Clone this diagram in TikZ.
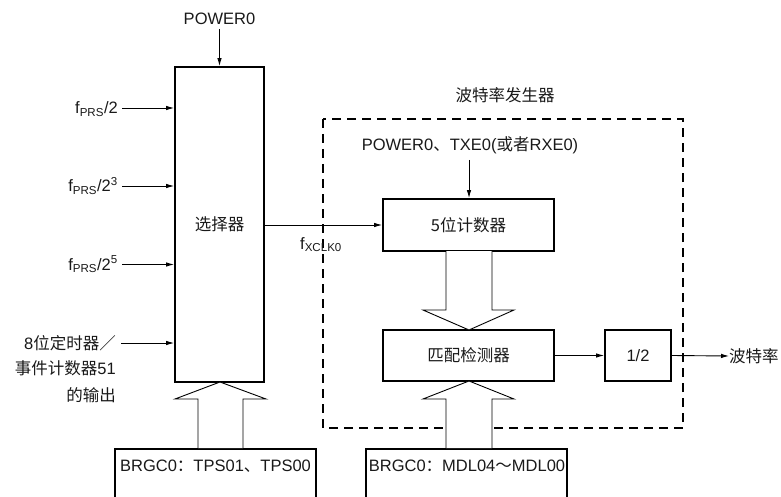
\documentclass[tikz,border=0pt]{standalone}
\usepackage{fontspec}
\setmainfont{Liberation Sans}
\newfontfamily\cjk{Noto Sans CJK SC}
\usetikzlibrary{arrows.meta}
\begin{document}
\begin{tikzpicture}[x=1pt,y=-1pt,
  every node/.style={font=\fontsize{16.5}{20}\selectfont, inner sep=0pt, text=black!90},
  blk/.style={draw, line width=1.8pt},
  sig/.style={-{Latex[length=8pt,width=4.5pt]}, line width=0.9pt},
  hollow/.style={draw, line width=0.9pt, fill=white},
  dashbox/.style={draw, line width=1.5pt, dash pattern=on 9pt off 6pt}]
\clip (0,0) rectangle (781,497);
% dashed baud-rate generator frame
\draw[dashbox] (323,119) rectangle (683,428);
\node (title) at (505,95) {\cjk 波特率发生器};
% selector
\node[blk, minimum width=89pt, minimum height=315pt] (sel) at (219.5,224.5) {\cjk 选择器};
\node (pw) at (219.5,19) {POWER0};
\coordinate (pwS) at (219.5,29);
\draw[sig] (pwS) -- (pwS |- sel.north);
% inputs
\node[anchor=base east] (in1) at (118,113.5) {f\textsubscript{PRS}/2};
\node[anchor=base east] (in2) at (118,191.5) {f\textsubscript{PRS}/2\textsuperscript{3}};
\node[anchor=base east] (in3) at (118,270) {f\textsubscript{PRS}/2\textsuperscript{5}};
\node[anchor=base east] (t1) at (116,349) {8{\cjk 位定时器／}};
\node[anchor=base east] (t2) at (116,374.5) {{\cjk 事件计数器}51};
\node[anchor=base east] (t3) at (116,401) {\cjk 的输出};
\coordinate (a1) at (122,108);
\coordinate (a2) at (122,186);
\coordinate (a3) at (122,264.5);
\coordinate (a4) at (121,343);
\draw[sig] (a1) -- (a1 -| sel.west);
\draw[sig] (a2) -- (a2 -| sel.west);
\draw[sig] (a3) -- (a3 -| sel.west);
\draw[sig] (a4) -- (a4 -| sel.west);
% counter
\node[blk, minimum width=171pt, minimum height=52pt] (cnt) at (468.5,225) {{\cjk 5位计数器}};
\node (pt) at (470,145) {POWER0{\cjk 、}TXE0({\cjk 或者}RXE0)};
\coordinate (ptS) at (469,160);
\draw[sig] (ptS) -- (ptS |- cnt.north);
\draw[sig] (sel.east |- cnt.west) -- (cnt.west);
\node[anchor=base west] (fx) at (300,249) {f\textsubscript{XCLK0}};
% match detector and 1/2
\node[blk, minimum width=171pt, minimum height=51pt] (match) at (468.5,355.5) {\cjk 匹配检测器};
\node[blk, minimum width=66pt, minimum height=51pt] (half) at (638,355.5) {1/2};
\node[anchor=west] (out) at (729,356) {\cjk 波特率};
\draw[sig] (match.east) -- (half.west);
\draw[sig] (half.east) -- (out.west);
% register boxes
\node[blk, anchor=north, minimum width=201pt, minimum height=80pt] (b1) at (215.5,448) {};
\node (b1t) at (215.5,466) {BRGC0{\cjk ：}TPS01{\cjk 、}TPS00};
\node[blk, anchor=north, minimum width=201pt, minimum height=80pt] (b2) at (466.5,448) {};
\node (b2t) at (467,466) {BRGC0{\cjk ：}MDL04{\cjk ～}MDL00};
% hollow arrows
\path[hollow] (198,448) -- (198,399) -- (175,399) -- (220,382) -- (266,399) -- (243,399) -- (243,448);
\path[hollow] (446,251) -- (446,310) -- (423,310) -- (469,330) -- (514,310) -- (492,310) -- (492,251);
\path[hollow] (446,448) -- (446,399) -- (423,399) -- (469,381) -- (514,399) -- (492,399) -- (492,448);
\end{tikzpicture}
\end{document}
